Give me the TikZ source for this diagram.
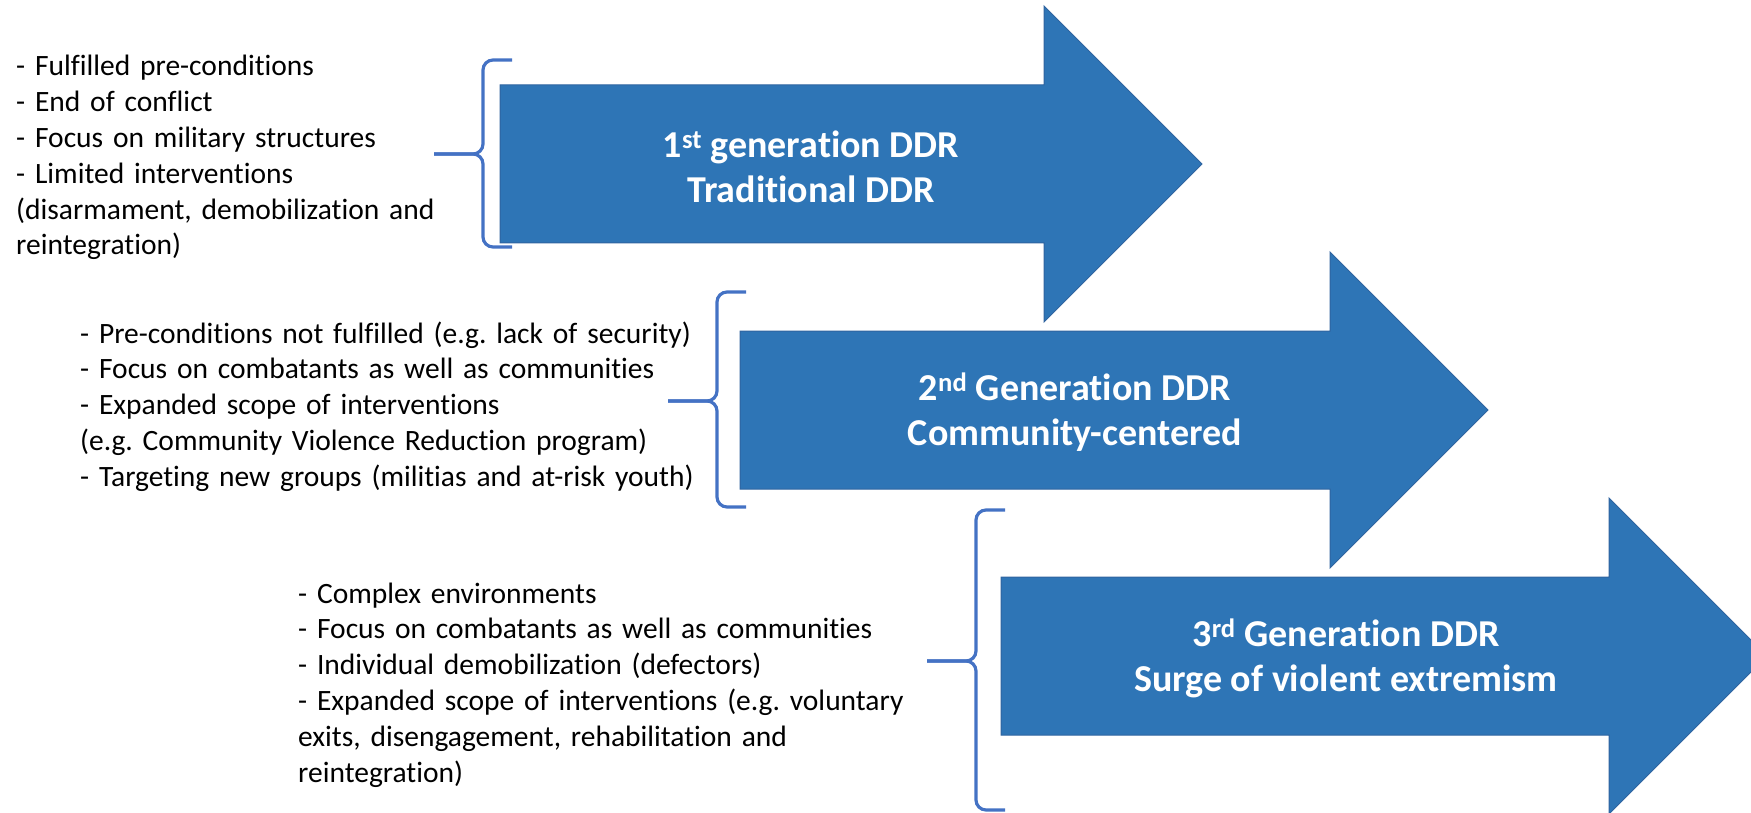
\documentclass[tikz,border=0pt]{standalone}
\usepackage{fontspec}
\setmainfont{Carlito}[Ligatures=NoCommon]
\frenchspacing

\definecolor{arrowblue}{HTML}{2E75B6}
\definecolor{arrowedge}{HTML}{2F64A0}
\definecolor{braceblue}{HTML}{4472C4}

\tikzset{
	genarrow/.style={fill=arrowblue, draw=arrowedge, line width=1pt},
	gentext/.style={text=white, align=center, font=\fontsize{38}{45}\selectfont\bfseries},
	condtext/.style={anchor=base west, inner sep=0pt, text width=650pt, align=left, font=\fontsize{29.5}{35.8}\selectfont},
	genbrace/.style={draw=braceblue, line width=3.2pt, rounded corners=10pt}
}

% left curly brace: x of the stroke, top, middle, bottom
\newcommand{\condbrace}[4]{%
	\draw[genbrace] ({#1+29},#2) -- (#1,#2) -- (#1,#3) -- ({#1-49},#3);
	\draw[genbrace] ({#1+29},#4) -- (#1,#4) -- (#1,#3) -- ({#1-49},#3);
}

\begin{document}
\begin{tikzpicture}[x=1pt, y=-1pt]
	\useasboundingbox (0,0) rectangle (1751,813);

	% Define the arrows
	\draw[genarrow] (500,85) -- (1044,85) -- (1044,6) -- (1202,164) -- (1044,322) -- (1044,243) -- (500,243) -- cycle;
	\draw[genarrow] (740,331) -- (1330,331) -- (1330,252) -- (1488,410) -- (1330,568) -- (1330,489) -- (740,489) -- cycle;
	\draw[genarrow] (1001,577) -- (1609,577) -- (1609,498) -- (1767,656) -- (1609,814) -- (1609,735) -- (1001,735) -- cycle;

	% Labels inside the arrows
	\node[gentext] (gen1) at (811,167) {1\textsuperscript{st} generation DDR\\Traditional DDR};
	\node[gentext] (gen2) at (1075,412) {2\textsuperscript{nd} Generation DDR\\Community-centered};
	\node[gentext] (gen3) at (1346,658) {3\textsuperscript{rd} Generation DDR\\Surge of violent extremism};

	% Braces
	\condbrace{483}{60}{154}{247}
	\condbrace{717}{292}{401}{507}
	\condbrace{976}{510}{661}{810}

	% Conditions of each generation
	\node[condtext] (cond1) at (16,76) {- Fulfilled pre-conditions\\
		- End of conflict\\
		- Focus on military structures\\
		- Limited interventions\\
		(disarmament, demobilization and\\
		reintegration)};
	\node[condtext] (cond2) at (80,343) {- Pre-conditions not fulfilled (e.g. lack of security)\\
		- Focus on combatants as well as communities\\
		- Expanded scope of interventions\\
		(e.g. Community Violence Reduction program)\\
		- Targeting new groups (militias and at-risk youth)};
	\node[condtext] (cond3) at (298,603) {- Complex environments\\
		- Focus on combatants as well as communities\\
		- Individual demobilization (defectors)\\
		- Expanded scope of interventions (e.g. voluntary\\
		exits, disengagement, rehabilitation and\\
		reintegration)};
\end{tikzpicture}
\end{document}
